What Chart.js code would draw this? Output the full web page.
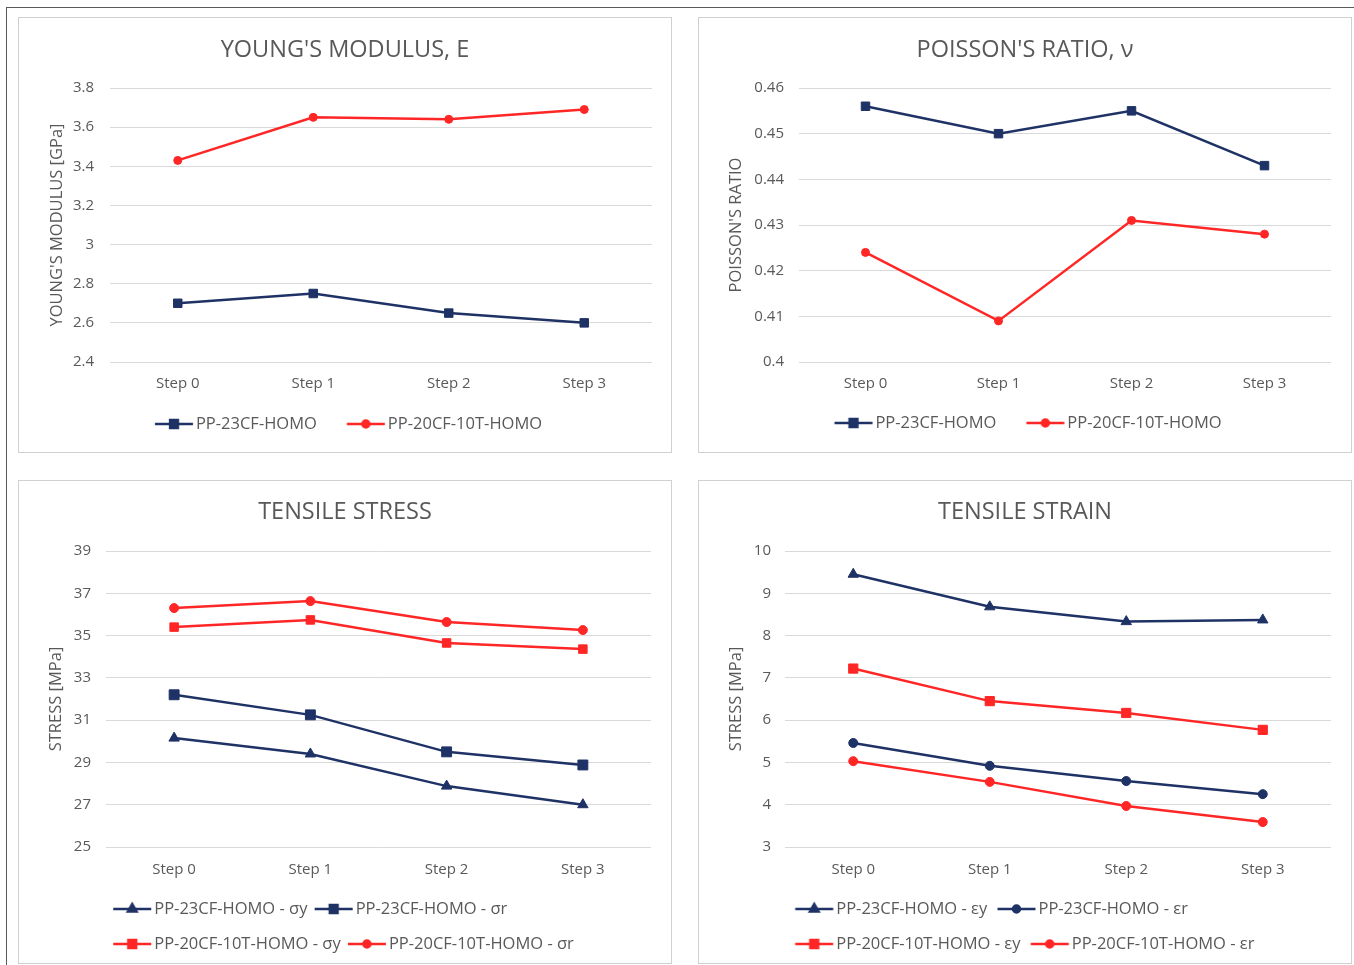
<!DOCTYPE html>
<html>
<head>
<meta charset="utf-8">
<title>Mechanical properties by recycling step</title>
<script src="https://cdn.jsdelivr.net/npm/chart.js@4.4.1/dist/chart.umd.min.js"></script>
<style>
  html, body { margin: 0; padding: 0; background: #ffffff; }
  body { width: 1354px; height: 965px; position: relative; overflow: hidden; }
  .frame { position: absolute; left: 6px; top: 7px; right: -2px; bottom: -10px;
           border-top: 1px solid #5a5a5a; border-left: 1px solid #5a5a5a; }
  .panel { position: absolute; box-sizing: border-box; border: 1px solid #d0d0d0; background: #ffffff; }
  .panel canvas { position: absolute; left: 0; top: 0; }
</style>
</head>
<body>
<div class="frame"></div>
<div class="panel" style="left:18px; top:17px; width:654px; height:436px;"><canvas id="young" width="652" height="434"></canvas></div>
<div class="panel" style="left:698px; top:17px; width:654px; height:436px;"><canvas id="poisson" width="652" height="434"></canvas></div>
<div class="panel" style="left:18px; top:480px; width:654px; height:484px;"><canvas id="stress" width="652" height="482"></canvas></div>
<div class="panel" style="left:698px; top:480px; width:654px; height:484px;"><canvas id="strain" width="652" height="482"></canvas></div>

<script>
// ---- data ----
const steps = ['Step 0', 'Step 1', 'Step 2', 'Step 3'];

const youngTicks = [2.4, 2.6, 2.8, 3, 3.2, 3.4, 3.6, 3.8];
const youngPP23CF = [2.70, 2.75, 2.65, 2.60];
const youngPP20CF10T = [3.43, 3.65, 3.64, 3.69];

const poissonTicks = [0.4, 0.41, 0.42, 0.43, 0.44, 0.45, 0.46];
const poissonPP23CF = [0.456, 0.450, 0.455, 0.443];
const poissonPP20CF10T = [0.424, 0.409, 0.431, 0.428];

const stressTicks = [25, 27, 29, 31, 33, 35, 37, 39];
const stressPP23CF_y = [30.15, 29.40, 27.88, 27.00];
const stressPP23CF_r = [32.20, 31.25, 29.50, 28.88];
const stressPP20CF10T_y = [35.40, 35.74, 34.65, 34.36];
const stressPP20CF10T_r = [36.30, 36.63, 35.64, 35.26];

const strainTicks = [3, 4, 5, 6, 7, 8, 9, 10];
const strainPP23CF_y = [9.45, 8.68, 8.33, 8.37];
const strainPP23CF_r = [5.46, 4.92, 4.56, 4.25];
const strainPP20CF10T_y = [7.22, 6.45, 6.17, 5.77];
const strainPP20CF10T_r = [5.03, 4.54, 3.97, 3.59];

// ---- styling ----
const NAVY = '#1f3266';
const RED = '#ff2626';
const TEXT = '#595959';
const GRID = '#d9d9d9';
const FAMILY = '"Open Sans", "Noto Sans", sans-serif';
const TITLE_SIZE = 23.5;
const TICK_SIZE = 15;
const AXIS_TITLE_SIZE = 16.5;
const LEGEND_SIZE = 16.5;
const PLOT_TOP = 70;

Chart.defaults.font.family = FAMILY;
Chart.defaults.color = TEXT;

// Legend key: a short line with the series marker in its middle.
// The key image is positioned relative to the legend box so that it ends
// just before the label text.
function legendKey(color, marker, radius, boxWidth, fontSize) {
  const lineLen = 38, gap = 3, h = 16;
  const cx = boxWidth / 2;
  const start = boxWidth + fontSize / 2 - gap - lineLen;
  const end = start + lineLen;
  const half = Math.ceil(Math.max(Math.abs(start - cx), Math.abs(end - cx))) + 1;
  const c = document.createElement('canvas');
  c.width = half * 2;
  c.height = h;
  const g = c.getContext('2d');
  const x0 = start - cx + half;
  g.strokeStyle = color;
  g.lineWidth = 2.5;
  g.beginPath();
  g.moveTo(x0, h / 2);
  g.lineTo(x0 + lineLen, h / 2);
  g.stroke();
  g.fillStyle = color;
  g.strokeStyle = color;
  Chart.helpers.drawPoint(g, {pointStyle: marker, radius: radius, rotation: 0, borderWidth: 1}, x0 + lineLen / 2, h / 2);
  return c;
}

function buildChart(id, o) {
  const canvas = document.getElementById(id);
  const keys = o.series.map(s => legendKey(s.color, s.marker, s.legendRadius, o.legend.boxWidth, LEGEND_SIZE));
  const datasets = o.series.map(s => ({
    label: s.label,
    data: s.data,
    borderColor: s.color,
    backgroundColor: s.color,
    borderWidth: 2.5,
    tension: 0,
    pointStyle: s.marker,
    pointRadius: s.radius,
    pointHoverRadius: s.radius,
    pointBackgroundColor: s.color,
    pointBorderColor: s.color,
    pointBorderWidth: 1
  }));

  // vertical budget below the plot: category labels, then the legend rows
  const legendH = o.legend.rows * (LEGEND_SIZE + o.legend.padding) + 10;
  const legendTop = o.legendRowY - o.legend.padding - LEGEND_SIZE / 2;
  const xHeight = legendTop - o.plotBottom;
  const padBottom = canvas.height - legendTop - legendH;

  return new Chart(canvas, {
    type: 'line',
    data: { labels: steps, datasets: datasets },
    options: {
      responsive: false,
      animation: false,
      devicePixelRatio: 1,
      events: [],
      layout: { padding: { left: 0, right: 0, top: 0, bottom: padBottom } },
      plugins: {
        tooltip: { enabled: false },
        title: {
          display: true,
          text: o.title,
          color: TEXT,
          font: { size: TITLE_SIZE, weight: 'normal', lineHeight: 1.2 },
          padding: { top: o.titleCenter - TITLE_SIZE * 0.6, bottom: PLOT_TOP - o.titleCenter - TITLE_SIZE * 0.6 }
        },
        legend: {
          display: true,
          position: 'bottom',
          align: o.legend.align,
          fullSize: o.legend.fullSize,
          labels: {
            usePointStyle: true,
            pointStyleWidth: o.legend.boxWidth,
            padding: o.legend.padding,
            color: TEXT,
            font: { size: LEGEND_SIZE },
            generateLabels(chart) {
              const items = Chart.defaults.plugins.legend.labels.generateLabels(chart);
              items.forEach((it, i) => { it.pointStyle = keys[i]; });
              return items;
            }
          }
        }
      },
      scales: {
        x: {
          offset: true,
          grid: { display: false, drawTicks: false },
          border: { display: false },
          ticks: { color: TEXT, font: { size: TICK_SIZE, lineHeight: 1.2 }, padding: o.xLabelGap - TICK_SIZE * 0.6 },
          afterFit(scale) { scale.height = xHeight; }
        },
        y: {
          min: o.ticks[0],
          max: o.ticks[o.ticks.length - 1],
          grid: { color: GRID, lineWidth: 1, drawTicks: false },
          border: { display: false },
          ticks: { color: TEXT, font: { size: TICK_SIZE }, padding: o.yLabelPad, callback: v => String(v) },
          afterBuildTicks(scale) { scale.ticks = o.ticks.map(v => ({ value: v })); },
          afterFit(scale) { scale.width = o.yWidth; },
          title: {
            display: true,
            text: o.yTitle,
            color: TEXT,
            font: { size: AXIS_TITLE_SIZE, lineHeight: 1.2 },
            padding: { top: o.yTitleCenter - AXIS_TITLE_SIZE * 0.6, bottom: 0 }
          }
        },
        // empty right-hand margin, kept as a blank axis so the title stays centred on the panel
        margin: {
          position: 'right',
          grid: { display: false, drawTicks: false },
          border: { display: false },
          ticks: { display: false },
          afterFit(scale) { scale.width = o.rightMargin; }
        }
      }
    }
  });
}

buildChart('young', {
  title: "YOUNG'S MODULUS, E",
  yTitle: "YOUNG'S MODULUS [GPa]",
  ticks: youngTicks,
  series: [
    { label: 'PP-23CF-HOMO', data: youngPP23CF, color: NAVY, marker: 'rect', radius: 6, legendRadius: 5.5 },
    { label: 'PP-20CF-10T-HOMO', data: youngPP20CF10T, color: RED, marker: 'circle', radius: 4, legendRadius: 3.5 }
  ],
  titleCenter: 32,
  rightMargin: 19,
  yWidth: 91, yLabelPad: 16, yTitleCenter: 38,
  plotBottom: 344, xLabelGap: 22, legendRowY: 406,
  legend: { align: 'center', fullSize: true, boxWidth: 39.75, padding: 23, rows: 1 }
});

buildChart('poisson', {
  title: "POISSON'S RATIO, ν",
  yTitle: "POISSON'S RATIO",
  ticks: poissonTicks,
  series: [
    { label: 'PP-23CF-HOMO', data: poissonPP23CF, color: NAVY, marker: 'rect', radius: 6, legendRadius: 5.5 },
    { label: 'PP-20CF-10T-HOMO', data: poissonPP20CF10T, color: RED, marker: 'circle', radius: 4, legendRadius: 3.5 }
  ],
  titleCenter: 32,
  rightMargin: 20,
  yWidth: 100, yLabelPad: 15, yTitleCenter: 37,
  plotBottom: 344, xLabelGap: 22, legendRowY: 405,
  legend: { align: 'center', fullSize: true, boxWidth: 38.75, padding: 24, rows: 1 }
});

buildChart('stress', {
  title: 'TENSILE STRESS',
  yTitle: 'STRESS [MPa]',
  ticks: stressTicks,
  series: [
    { label: 'PP-23CF-HOMO - σy', data: stressPP23CF_y, color: NAVY, marker: 'triangle', radius: 6, legendRadius: 5 },
    { label: 'PP-23CF-HOMO - σr', data: stressPP23CF_r, color: NAVY, marker: 'rect', radius: 7, legendRadius: 5.5 },
    { label: 'PP-20CF-10T-HOMO - σy', data: stressPP20CF10T_y, color: RED, marker: 'rect', radius: 6, legendRadius: 5.5 },
    { label: 'PP-20CF-10T-HOMO - σr', data: stressPP20CF10T_r, color: RED, marker: 'circle', radius: 4.5, legendRadius: 3.5 }
  ],
  titleCenter: 31,
  rightMargin: 20,
  yWidth: 87, yLabelPad: 15, yTitleCenter: 37,
  plotBottom: 366, xLabelGap: 23, legendRowY: 428,
  legend: { align: 'start', fullSize: false, boxWidth: 21.5, padding: 18.5, rows: 2 }
});

buildChart('strain', {
  title: 'TENSILE STRAIN',
  yTitle: 'STRESS [MPa]',
  ticks: strainTicks,
  series: [
    { label: 'PP-23CF-HOMO - εy', data: strainPP23CF_y, color: NAVY, marker: 'triangle', radius: 6, legendRadius: 5 },
    { label: 'PP-23CF-HOMO - εr', data: strainPP23CF_r, color: NAVY, marker: 'circle', radius: 4.5, legendRadius: 3.5 },
    { label: 'PP-20CF-10T-HOMO - εy', data: strainPP20CF10T_y, color: RED, marker: 'rect', radius: 6.5, legendRadius: 5.5 },
    { label: 'PP-20CF-10T-HOMO - εr', data: strainPP20CF10T_r, color: RED, marker: 'circle', radius: 4.5, legendRadius: 3.5 }
  ],
  titleCenter: 31,
  rightMargin: 20,
  yWidth: 86, yLabelPad: 14, yTitleCenter: 37,
  plotBottom: 366, xLabelGap: 23, legendRowY: 428,
  legend: { align: 'start', fullSize: false, boxWidth: 24.5, padding: 18.5, rows: 2 }
});
</script>
</body>
</html>
